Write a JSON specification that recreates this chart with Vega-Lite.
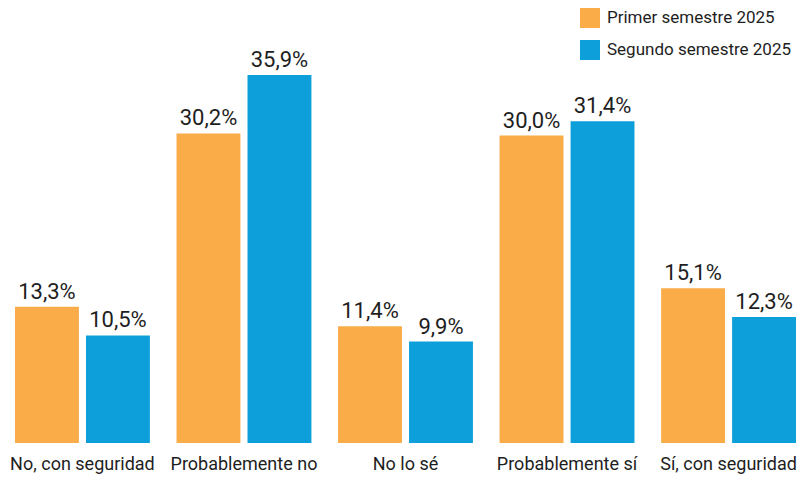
{
  "$schema": "https://vega.github.io/schema/vega-lite/v6.json",
  "width": 781,
  "height": 369,
  "autosize": {"type": "none"},
  "padding": {"left": 15, "top": 74, "right": 4, "bottom": 36},
  "background": "white",
  "config": {
    "view": {"stroke": null},
    "font": "Roboto",
    "locale": {"number": {"decimal": ",", "thousands": ".", "grouping": [3], "currency": ["", " €"]}}
  },
  "data": {
    "values": [
      {"categoria": "No, con seguridad", "periodo": "Primer semestre 2025", "valor": 0.133},
      {"categoria": "No, con seguridad", "periodo": "Segundo semestre 2025", "valor": 0.105},
      {"categoria": "Probablemente no", "periodo": "Primer semestre 2025", "valor": 0.302},
      {"categoria": "Probablemente no", "periodo": "Segundo semestre 2025", "valor": 0.359},
      {"categoria": "No lo sé", "periodo": "Primer semestre 2025", "valor": 0.114},
      {"categoria": "No lo sé", "periodo": "Segundo semestre 2025", "valor": 0.099},
      {"categoria": "Probablemente sí", "periodo": "Primer semestre 2025", "valor": 0.300},
      {"categoria": "Probablemente sí", "periodo": "Segundo semestre 2025", "valor": 0.314},
      {"categoria": "Sí, con seguridad", "periodo": "Primer semestre 2025", "valor": 0.151},
      {"categoria": "Sí, con seguridad", "periodo": "Segundo semestre 2025", "valor": 0.123}
    ]
  },
  "encoding": {
    "x": {
      "field": "categoria", "type": "nominal", "sort": null,
      "scale": {"paddingInner": 0.165, "paddingOuter": 0},
      "axis": {"title": null, "domain": false, "ticks": false, "labelAngle": 0, "labelFontSize": 18, "labelColor": "#1e1e1e", "labelPadding": 12, "labelFont": "Roboto", "labelLimit": 300}
    },
    "xOffset": {"field": "periodo", "type": "nominal", "scale": {"paddingInner": 0.1, "paddingOuter": 0}},
    "y": {"field": "valor", "type": "quantitative", "scale": {"domain": [0, 0.36], "nice": false, "zero": true}, "axis": null}
  },
  "layer": [
    {
      "mark": {"type": "bar"},
      "encoding": {
        "color": {
          "field": "periodo", "type": "nominal",
          "scale": {"domain": ["Primer semestre 2025", "Segundo semestre 2025"], "range": ["#F9AC47", "#0C9FD9"]},
          "legend": {
            "title": null, "orient": "none", "legendX": 565, "legendY": -66,
            "symbolType": "square", "symbolSize": 400, "symbolStrokeWidth": 0, "symbolOpacity": 1,
            "labelFontSize": 17, "labelColor": "#1e1e1e", "labelOffset": 7, "rowPadding": 12,
            "labelFont": "Roboto", "labelLimit": 300
          }
        }
      }
    },
    {
      "mark": {"type": "text", "baseline": "alphabetic", "dy": -8, "fontSize": 22, "color": "#1e1e1e"},
      "encoding": {
        "text": {"field": "valor", "type": "quantitative", "format": ".1%"}
      }
    }
  ]
}
